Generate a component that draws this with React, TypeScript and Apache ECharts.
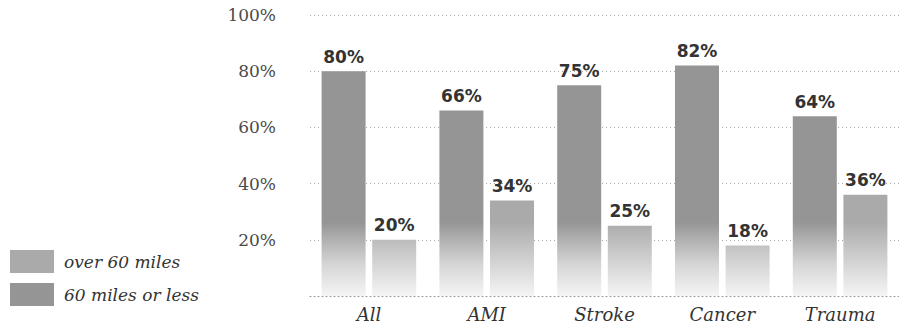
import React, { useEffect, useRef } from "react";
import * as echarts from "echarts";

const categories = ["All", "AMI", "Stroke", "Cancer", "Trauma"];
const nearValues = [80, 66, 75, 82, 64]; // 60 miles or less
const farValues = [20, 34, 25, 18, 36]; // over 60 miles
const yTicks = [0, 20, 40, 60, 80, 100];

// bars fade out towards the baseline (pixel coordinates of the chart)
const fade = (top: string) =>
  new echarts.graphic.LinearGradient(
    0,
    297,
    0,
    222,
    [
      { offset: 0, color: "#f6f6f6" },
      { offset: 0.45, color: "#d4d4d4" },
      { offset: 1, color: top },
    ],
    true
  );

export default function App() {
  const ref = useRef<HTMLDivElement>(null);

  useEffect(() => {
    if (!ref.current) return;
    const chart = echarts.init(ref.current, null, { renderer: "svg" });
    const valueLabel = {
      show: true,
      position: "top" as const,
      distance: 6,
      formatter: "{c}%",
      fontFamily: "DejaVu Sans",
      fontWeight: "bold" as const,
      fontSize: 17,
      color: "#333",
    };
    chart.setOption({
      animation: false,
      backgroundColor: "#ffffff",
      legend: {
        orient: "vertical",
        left: 10,
        top: 250,
        padding: 0,
        itemWidth: 44,
        itemHeight: 23,
        itemGap: 10,
        icon: "rect",
        data: ["over 60 miles", "60 miles or less"],
        textStyle: {
          fontFamily: "DejaVu Serif",
          fontStyle: "italic",
          fontSize: 17,
          color: "#333",
          padding: [0, 0, 0, 5],
        },
      },
      grid: { left: 310, right: -3, top: 15, bottom: 35 },
      xAxis: {
        type: "category",
        data: categories,
        axisLine: {
          show: true,
          lineStyle: { color: "#999", type: [1, 3], width: 1.2 },
        },
        axisTick: { show: false },
        axisLabel: {
          fontFamily: "DejaVu Serif",
          fontStyle: "italic",
          fontSize: 18,
          color: "#333",
          margin: 9,
        },
      },
      yAxis: {
        type: "value",
        min: yTicks[0],
        max: yTicks[yTicks.length - 1],
        interval: 20,
        axisLine: { show: false },
        axisTick: { show: false },
        axisLabel: {
          fontFamily: "DejaVu Serif",
          fontSize: 17,
          color: "#4a4a4a",
          margin: 34,
          formatter: (v: number) => (v === 0 ? "" : `${v}%`),
        },
        splitLine: {
          lineStyle: { color: "#aaa", type: [1, 3], width: 1.2 },
        },
      },
      series: [
        {
          name: "60 miles or less",
          type: "bar",
          data: nearValues,
          barWidth: 44,
          barGap: "15%",
          itemStyle: { color: fade("#959595") },
          label: valueLabel,
        },
        {
          name: "over 60 miles",
          type: "bar",
          data: farValues,
          barWidth: 44,
          itemStyle: { color: fade("#aaaaaa") },
          label: valueLabel,
        },
      ],
    });
    return () => chart.dispose();
  }, []);

  return (
    <div
      ref={ref}
      style={{ position: "fixed", left: 0, top: 0, width: 899, height: 331 }}
    />
  );
}
